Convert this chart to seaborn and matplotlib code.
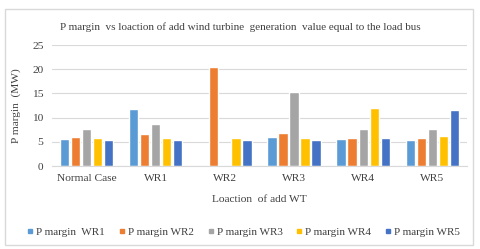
import numpy as np
import pandas as pd
import seaborn as sns
import matplotlib.pyplot as plt
from matplotlib.patches import Rectangle

# Categories (x axis) and series
cases = ["Normal Case", "WR1", "WR2", "WR3", "WR4", "WR5"]
series = ["P margin  WR1", "P margin WR2", "P margin WR3", "P margin WR4", "P margin WR5"]

# P margin values (MW)
p_wr1 = [5.5, 11.8, 0.0, 6.1, 5.5, 5.4]
p_wr2 = [6.0, 6.6, 20.4, 6.8, 5.9, 5.9]
p_wr3 = [7.7, 8.7, 0.0, 15.3, 7.7, 7.7]
p_wr4 = [5.7, 5.7, 5.7, 5.7, 11.9, 6.3]
p_wr5 = [5.4, 5.4, 5.4, 5.4, 5.9, 11.5]

colors = ["#5B9BD5", "#ED7D31", "#A5A5A5", "#FFC000", "#4472C4"]

df = pd.DataFrame({
    "case": cases * 5,
    "series": np.repeat(series, len(cases)),
    "value": p_wr1 + p_wr2 + p_wr3 + p_wr4 + p_wr5,
})

sns.set_style("white")
plt.rcParams['font.family'] = ['Liberation Serif', 'DejaVu Serif']

fig = plt.figure(figsize=(4.8, 2.49), dpi=100)
ax = fig.add_axes([0.108, 0.333, 0.865, 0.486])

sns.barplot(data=df, x="case", y="value", hue="series", palette=colors,
            saturation=1, width=0.8, gap=0.15, ax=ax, legend=False)

ax.set_ylim(0, 25)
ax.set_xlim(-0.5, 5.5)
ax.set_yticks([0, 5, 10, 15, 20, 25])
ax.yaxis.grid(True, color="#D9D9D9", linewidth=0.8)
ax.set_axisbelow(True)
for s in ["top", "right", "left"]:
    ax.spines[s].set_visible(False)
ax.spines["bottom"].set_color("#D9D9D9")
ax.tick_params(axis="both", length=0, labelsize=8.2, colors="#404040", pad=6)

ax.set_xlabel("Loaction  of add WT", fontsize=8.2, color="#404040", labelpad=8)
ax.set_ylabel("P margin  (MW)", fontsize=8.2, color="#404040", labelpad=8)
ax.set_title("P margin  vs loaction of add wind turbine  generation  value equal to the load bus",
             fontsize=8, color="#404040", pad=11, x=0.455)

# legend with small squares
handles = [plt.Line2D([], [], marker="s", linestyle="", color=c, markersize=3.5) for c in colors]
fig.legend(handles, series, loc="center", bbox_to_anchor=(0.505, 0.068), ncol=5,
           frameon=False, fontsize=8, handletextpad=0.05, columnspacing=1.0,
           handlelength=1.0, labelcolor="#404040")

# outer border of the chart area
fig.add_artist(Rectangle((0.01, 0.015), 0.975, 0.95, transform=fig.transFigure,
                         fill=False, edgecolor="#D9D9D9", linewidth=1))

fig.savefig("out.png", dpi=100)
